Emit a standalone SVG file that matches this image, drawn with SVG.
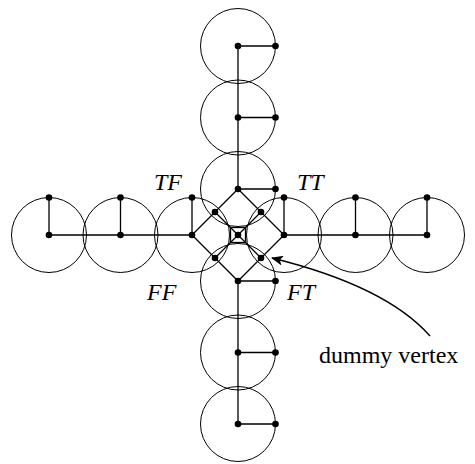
<svg xmlns="http://www.w3.org/2000/svg" width="475" height="464" viewBox="0 0 475 464">
<defs>
<style>
.c{fill:none;stroke:#000;stroke-width:1}
.e{fill:none;stroke:#000;stroke-width:1.3}
.v{fill:#000}
.lab{font-family:"Liberation Serif",serif;font-style:italic;font-size:24px;fill:#000}
.txt{font-family:"Liberation Serif",serif;font-size:24px;fill:#000}
</style>
<marker id="ah" viewBox="0 0 12 10" refX="11" refY="5" markerWidth="12" markerHeight="10" markerUnits="userSpaceOnUse" orient="auto">
<path d="M0,0 L12,5 L0,10 L3,5 Z" fill="#000"/>
</marker>
</defs>
<rect width="475" height="464" fill="#fff"/>
<g id="circles">
<circle class="c" cx="238" cy="46" r="37.5"/>
<circle class="c" cx="238" cy="117.5" r="37.5"/>
<circle class="c" cx="238" cy="189" r="37.5"/>
<circle class="c" cx="238" cy="281" r="37.5"/>
<circle class="c" cx="238" cy="352.5" r="37.5"/>
<circle class="c" cx="238" cy="424" r="37.5"/>
<circle class="c" cx="49" cy="235" r="37.5"/>
<circle class="c" cx="120.5" cy="235" r="37.5"/>
<circle class="c" cx="192" cy="235" r="37.5"/>
<circle class="c" cx="284" cy="235" r="37.5"/>
<circle class="c" cx="355.5" cy="235" r="37.5"/>
<circle class="c" cx="427" cy="235" r="37.5"/>
</g>
<g id="connectors">
<path class="e" d="M238,46 V189 M238,281 V424 M49,235 H192 M284,235 H427"/>
<path class="e" d="M238,46 H275.5 M238,117.5 H275.5 M238,189 H275.5 M238,281 H275.5 M238,352.5 H275.5 M238,424 H275.5"/>
<path class="e" d="M49,235 V197.5 M120.5,235 V197.5 M192,235 V197.5 M284,235 V197.5 M355.5,235 V197.5 M427,235 V197.5"/>
<path class="e" d="M238,189 L284,235 L238,281 L192,235 Z"/>
<path class="e" d="M215,212 L261,258 M261,212 L215,258"/>
<rect class="e" x="230.5" y="227.5" width="15" height="15"/>
<path class="e" d="M430,336 C400,302 345,276 272,258" marker-end="url(#ah)"/>
</g>
<g id="vertices">
<circle class="v" cx="238" cy="46" r="3.3"/><circle class="v" cx="275.5" cy="46" r="3.3"/>
<circle class="v" cx="238" cy="117.5" r="3.3"/><circle class="v" cx="275.5" cy="117.5" r="3.3"/>
<circle class="v" cx="238" cy="189" r="3.3"/><circle class="v" cx="275.5" cy="189" r="3.3"/>
<circle class="v" cx="238" cy="281" r="3.3"/><circle class="v" cx="275.5" cy="281" r="3.3"/>
<circle class="v" cx="238" cy="352.5" r="3.3"/><circle class="v" cx="275.5" cy="352.5" r="3.3"/>
<circle class="v" cx="238" cy="424" r="3.3"/><circle class="v" cx="275.5" cy="424" r="3.3"/>
<circle class="v" cx="49" cy="235" r="3.3"/><circle class="v" cx="49" cy="197.5" r="3.3"/>
<circle class="v" cx="120.5" cy="235" r="3.3"/><circle class="v" cx="120.5" cy="197.5" r="3.3"/>
<circle class="v" cx="192" cy="235" r="3.3"/><circle class="v" cx="192" cy="197.5" r="3.3"/>
<circle class="v" cx="284" cy="235" r="3.3"/><circle class="v" cx="284" cy="197.5" r="3.3"/>
<circle class="v" cx="355.5" cy="235" r="3.3"/><circle class="v" cx="355.5" cy="197.5" r="3.3"/>
<circle class="v" cx="427" cy="235" r="3.3"/><circle class="v" cx="427" cy="197.5" r="3.3"/>
<circle class="v" cx="215" cy="212" r="3.3"/><circle class="v" cx="261" cy="212" r="3.3"/>
<circle class="v" cx="215" cy="258" r="3.3"/><circle class="v" cx="261" cy="258" r="3.3"/>
<circle class="v" cx="238" cy="235" r="3.3"/>
</g>
<g id="labels">
<text class="lab" x="154" y="190">TF</text>
<text class="lab" x="297" y="190">TT</text>
<text class="lab" x="147" y="300">FF</text>
<text class="lab" x="287" y="300">FT</text>
<text class="txt" x="319" y="363">dummy vertex</text>
</g>
</svg>
